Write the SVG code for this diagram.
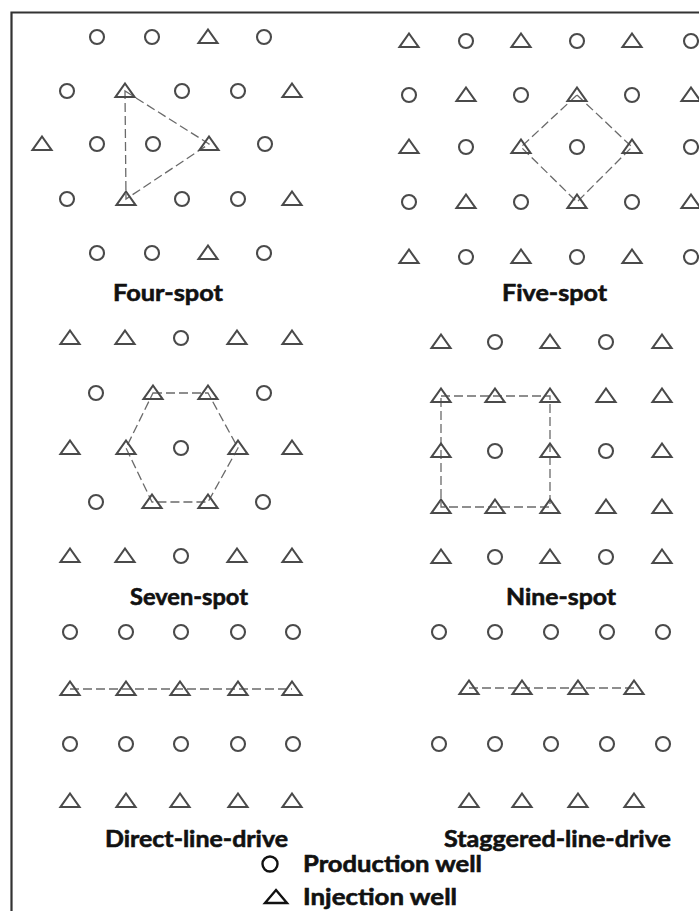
<svg xmlns="http://www.w3.org/2000/svg" xmlns:xlink="http://www.w3.org/1999/xlink" width="699" height="911" viewBox="0 0 699 911">
<style>
.w{fill:none;stroke:#4a4a4a;stroke-width:2.1}
.c{fill:none;stroke:#6a6a6a;stroke-width:1.3;stroke-dasharray:9 4}
.lb{font-family:Lato,"Open Sans","Liberation Sans",sans-serif;font-weight:700;font-size:23.5px;fill:#111;stroke:#111;stroke-width:0.6}
.lg{fill:none;stroke:#111;stroke-width:2.4}
</style>
<defs>
<circle id="P" r="7"/>
<path id="I" d="M0,-7.5 L9.5,6 L-9.5,6 Z"/>
</defs>
<rect width="699" height="911" fill="#fff"/>
<path d="M11.5,911 V12.5 H699" fill="none" stroke="#333" stroke-width="2.2"/>

<g id="connectors">
<polygon class="c" points="125,91 209,144 126,199"/>
<polygon class="c" points="577,95 632,147 577,202 521,147"/>
<polygon class="c" points="153,393 208,393 238,448 208,502 152,502 126,448"/>
<polygon class="c" points="441,396 550,396 550,507 441,507"/>
<line class="c" x1="70" y1="689" x2="292" y2="689"/>
<line class="c" x1="469" y1="688" x2="634" y2="688"/>
</g>

<g id="four-spot" class="w">
<use href="#P" x="97" y="37"/><use href="#P" x="152" y="37"/><use href="#I" x="208" y="37"/><use href="#P" x="264" y="37"/>
<use href="#P" x="67" y="91"/><use href="#I" x="125" y="91"/><use href="#P" x="182" y="91"/><use href="#P" x="238" y="91"/><use href="#I" x="292" y="91"/>
<use href="#I" x="42" y="144"/><use href="#P" x="97" y="144"/><use href="#P" x="153" y="144"/><use href="#I" x="209" y="144"/><use href="#P" x="265" y="144"/>
<use href="#P" x="67" y="199"/><use href="#I" x="126" y="199"/><use href="#P" x="182" y="199"/><use href="#P" x="238" y="199"/><use href="#I" x="292" y="199"/>
<use href="#P" x="97" y="253"/><use href="#P" x="152" y="253"/><use href="#I" x="208" y="253"/><use href="#P" x="264" y="253"/>
</g>
<text id="label-four" class="lb" x="113" y="301" textLength="110" lengthAdjust="spacingAndGlyphs">Four-spot</text>

<g id="five-spot" class="w">
<use href="#I" x="409" y="41"/><use href="#P" x="466" y="41"/><use href="#I" x="521" y="41"/><use href="#P" x="577" y="41"/><use href="#I" x="632" y="41"/><use href="#P" x="691" y="41"/>
<use href="#P" x="409" y="95"/><use href="#I" x="466" y="95"/><use href="#P" x="521" y="95"/><use href="#I" x="577" y="95"/><use href="#P" x="632" y="95"/><use href="#I" x="691" y="95"/>
<use href="#I" x="409" y="147"/><use href="#P" x="466" y="147"/><use href="#I" x="521" y="147"/><use href="#P" x="577" y="147"/><use href="#I" x="632" y="147"/><use href="#P" x="691" y="147"/>
<use href="#P" x="409" y="202"/><use href="#I" x="466" y="202"/><use href="#P" x="521" y="202"/><use href="#I" x="577" y="202"/><use href="#P" x="632" y="202"/><use href="#I" x="691" y="202"/>
<use href="#I" x="409" y="257"/><use href="#P" x="466" y="257"/><use href="#I" x="521" y="257"/><use href="#P" x="577" y="257"/><use href="#I" x="632" y="257"/><use href="#P" x="691" y="257"/>
</g>
<text id="label-five" class="lb" x="502" y="301" textLength="105" lengthAdjust="spacingAndGlyphs">Five-spot</text>

<g id="seven-spot" class="w">
<use href="#I" x="70" y="338"/><use href="#I" x="125" y="338"/><use href="#P" x="181" y="338"/><use href="#I" x="237" y="338"/><use href="#I" x="292" y="338"/>
<use href="#P" x="96" y="393"/><use href="#I" x="153" y="393"/><use href="#I" x="208" y="393"/><use href="#P" x="264" y="393"/>
<use href="#I" x="70" y="448"/><use href="#I" x="126" y="448"/><use href="#P" x="181" y="448"/><use href="#I" x="238" y="448"/><use href="#I" x="292" y="448"/>
<use href="#P" x="96" y="502"/><use href="#I" x="152" y="502"/><use href="#I" x="208" y="502"/><use href="#P" x="263" y="502"/>
<use href="#I" x="70" y="556"/><use href="#I" x="125" y="556"/><use href="#P" x="181" y="556"/><use href="#I" x="237" y="556"/><use href="#I" x="292" y="556"/>
</g>
<text id="label-seven" class="lb" x="130" y="605" textLength="118" lengthAdjust="spacingAndGlyphs">Seven-spot</text>

<g id="nine-spot" class="w">
<use href="#I" x="441" y="342"/><use href="#P" x="495" y="342"/><use href="#I" x="550" y="342"/><use href="#P" x="606" y="342"/><use href="#I" x="662" y="342"/>
<use href="#I" x="441" y="396"/><use href="#I" x="495" y="396"/><use href="#I" x="550" y="396"/><use href="#I" x="606" y="396"/><use href="#I" x="662" y="396"/>
<use href="#I" x="441" y="451"/><use href="#P" x="495" y="451"/><use href="#I" x="550" y="451"/><use href="#P" x="606" y="451"/><use href="#I" x="662" y="451"/>
<use href="#I" x="441" y="507"/><use href="#I" x="495" y="507"/><use href="#I" x="550" y="507"/><use href="#I" x="606" y="507"/><use href="#I" x="662" y="507"/>
<use href="#I" x="441" y="557"/><use href="#P" x="495" y="557"/><use href="#I" x="550" y="557"/><use href="#P" x="606" y="557"/><use href="#I" x="662" y="557"/>
</g>
<text id="label-nine" class="lb" x="506" y="605" textLength="110" lengthAdjust="spacingAndGlyphs">Nine-spot</text>

<g id="direct-line-drive" class="w">
<use href="#P" x="70" y="632"/><use href="#P" x="126" y="632"/><use href="#P" x="181" y="632"/><use href="#P" x="238" y="632"/><use href="#P" x="293" y="632"/>
<use href="#I" x="70" y="689"/><use href="#I" x="126" y="689"/><use href="#I" x="180" y="689"/><use href="#I" x="238" y="689"/><use href="#I" x="292" y="689"/>
<use href="#P" x="70" y="744"/><use href="#P" x="126" y="744"/><use href="#P" x="181" y="744"/><use href="#P" x="238" y="744"/><use href="#P" x="293" y="744"/>
<use href="#I" x="70" y="801"/><use href="#I" x="126" y="801"/><use href="#I" x="180" y="801"/><use href="#I" x="238" y="801"/><use href="#I" x="292" y="801"/>
</g>
<text id="label-direct" class="lb" x="105" y="847" textLength="183" lengthAdjust="spacingAndGlyphs">Direct-line-drive</text>

<g id="staggered-line-drive" class="w">
<use href="#P" x="439" y="632"/><use href="#P" x="495" y="632"/><use href="#P" x="551" y="632"/><use href="#P" x="607" y="632"/><use href="#P" x="663" y="632"/>
<use href="#I" x="469" y="688"/><use href="#I" x="522" y="688"/><use href="#I" x="578" y="688"/><use href="#I" x="634" y="688"/>
<use href="#P" x="439" y="744"/><use href="#P" x="495" y="744"/><use href="#P" x="551" y="744"/><use href="#P" x="607" y="744"/><use href="#P" x="663" y="744"/>
<use href="#I" x="469" y="801"/><use href="#I" x="522" y="801"/><use href="#I" x="578" y="801"/><use href="#I" x="634" y="801"/>
</g>
<text id="label-staggered" class="lb" x="444" y="847" textLength="227" lengthAdjust="spacingAndGlyphs">Staggered-line-drive</text>

<g id="legend">
<circle class="lg" cx="270" cy="864" r="7.5"/>
<text class="lb" x="303" y="872" textLength="179" lengthAdjust="spacingAndGlyphs">Production well</text>
<path class="lg" d="M276,890 L287,903 L265,903 Z"/>
<text class="lb" x="303" y="905" textLength="154" lengthAdjust="spacingAndGlyphs">Injection well</text>
</g>
</svg>
